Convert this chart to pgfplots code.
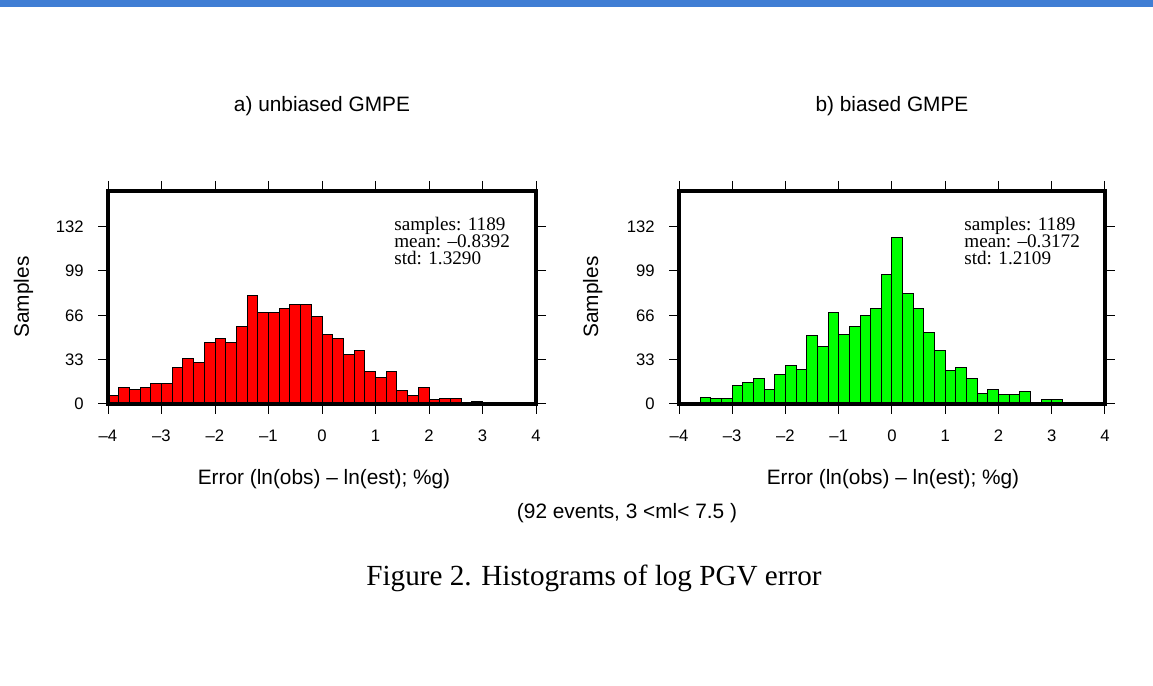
\documentclass[border=0pt]{standalone}
\usepackage{pgfplots}
\pgfplotsset{compat=1.18}
\usepackage{fontspec}
\setmainfont{Liberation Sans}
\newfontfamily\serif[Ligatures=TeX]{Liberation Serif}
\definecolor{band}{RGB}{64,126,212}
\pgfplotsset{
  hist/.style={
    scale only axis, width=256.8pt, height=127.8pt,
    xmin=-4, xmax=4, ymin=0, ymax=158.5,
    axis on top,
    axis line style={line width=2pt},
    tick align=outside, major tick length=6pt,
    every tick/.style={black, line width=0.6pt},
    /pgf/number format/assume math mode=true,
    xtick={-4,-3,-2,-1,0,1,2,3,4},
    xticklabels={--4,--3,--2,--1,0,1,2,3,4},
    ytick={0,33,66,99,132},
    yticklabels={0,33,66,99,132},
    tick label style={font=\fontsize{10}{12}\selectfont},
    xticklabel style={anchor=center, inner sep=0pt, yshift=-13.2pt},
    yticklabel style={anchor=east, inner sep=0pt, xshift=-8.4pt},
  }
}
\begin{document}
\begin{tikzpicture}
\useasboundingbox (0,0) rectangle (691.8pt,411.6pt);
\fill[band] (0,407.4pt) rectangle (691.8pt,411.6pt);

\begin{axis}[hist, at={(64.8pt,169.2pt)}, anchor=south west]
\addplot[ybar interval, fill=red, draw=black, line width=0.6pt] coordinates {
(-4.0,6) (-3.8,12) (-3.6,11) (-3.4,12) (-3.2,15) (-3.0,15) (-2.8,27) (-2.6,34)
(-2.4,31) (-2.2,46) (-2.0,49) (-1.8,46) (-1.6,58) (-1.4,81) (-1.2,68) (-1.0,68)
(-0.8,71) (-0.6,74) (-0.4,74) (-0.2,65) (0.0,52) (0.2,49) (0.4,37) (0.6,40)
(0.8,24) (1.0,20) (1.2,24) (1.4,10) (1.6,6) (1.8,12) (2.0,3) (2.2,4)
(2.4,4) (2.6,0) (2.8,2) (3.0,0)
};
\end{axis}

\begin{axis}[hist, at={(407.4pt,169.2pt)}, anchor=south west, width=255.6pt]
\addplot[ybar interval, fill=green, draw=black, line width=0.6pt] coordinates {
(-4.0,1) (-3.8,0) (-3.6,5) (-3.4,4) (-3.2,4) (-3.0,14) (-2.8,16) (-2.6,19)
(-2.4,11) (-2.2,22) (-2.0,29) (-1.8,26) (-1.6,51) (-1.4,43) (-1.2,68) (-1.0,52)
(-0.8,58) (-0.6,66) (-0.4,71) (-0.2,96) (0.0,124) (0.2,82) (0.4,71) (0.6,53)
(0.8,40) (1.0,25) (1.2,27) (1.4,19) (1.6,8) (1.8,11) (2.0,7) (2.2,7)
(2.4,9) (2.6,1) (2.8,3) (3.0,3) (3.2,1) (3.4,0)
};
\end{axis}

% titles
\node[anchor=base, font=\fontsize{12.5}{14}\selectfont] at (193.2pt,344.4pt) {a) unbiased GMPE};
\node[anchor=base, font=\fontsize{12.5}{14}\selectfont] at (535.2pt,344.4pt) {b) biased GMPE};
% x labels
\node[anchor=base, font=\fontsize{12.5}{14}\selectfont] at (194.4pt,120.6pt) {Error (ln(obs) -- ln(est); \%g)};
\node[anchor=base, font=\fontsize{12.5}{14}\selectfont] at (535.8pt,120.6pt) {Error (ln(obs) -- ln(est); \%g)};
% y labels
\node[anchor=base, rotate=90, font=\fontsize{12.5}{14}\selectfont] at (17.4pt,233.4pt) {Samples};
\node[anchor=base, rotate=90, font=\fontsize{12.5}{14}\selectfont] at (358.8pt,233.4pt) {Samples};
% stats
\begin{scope}[every node/.style={anchor=base west, inner sep=0pt, font=\serif\fontsize{11.5}{12}\selectfont}]
\node at (236.4pt,273pt) {samples: 1189};
\node at (236.4pt,262.8pt) {mean: --0.8392};
\node at (236.4pt,252.6pt) {std: 1.3290};
\node at (578.4pt,273pt) {samples: 1189};
\node at (578.4pt,262.8pt) {mean: --0.3172};
\node at (578.4pt,252.6pt) {std: 1.2109};
\end{scope}
% bottom note and caption
\node[anchor=base, font=\fontsize{12.5}{14}\selectfont] at (376.2pt,100.2pt) {(92 events, 3 <ml< 7.5 )};
\node[anchor=base, font=\serif\fontsize{17.5}{20}\selectfont] at (356.4pt,60pt) {Figure 2. Histograms of log PGV error};
\end{tikzpicture}
\end{document}
